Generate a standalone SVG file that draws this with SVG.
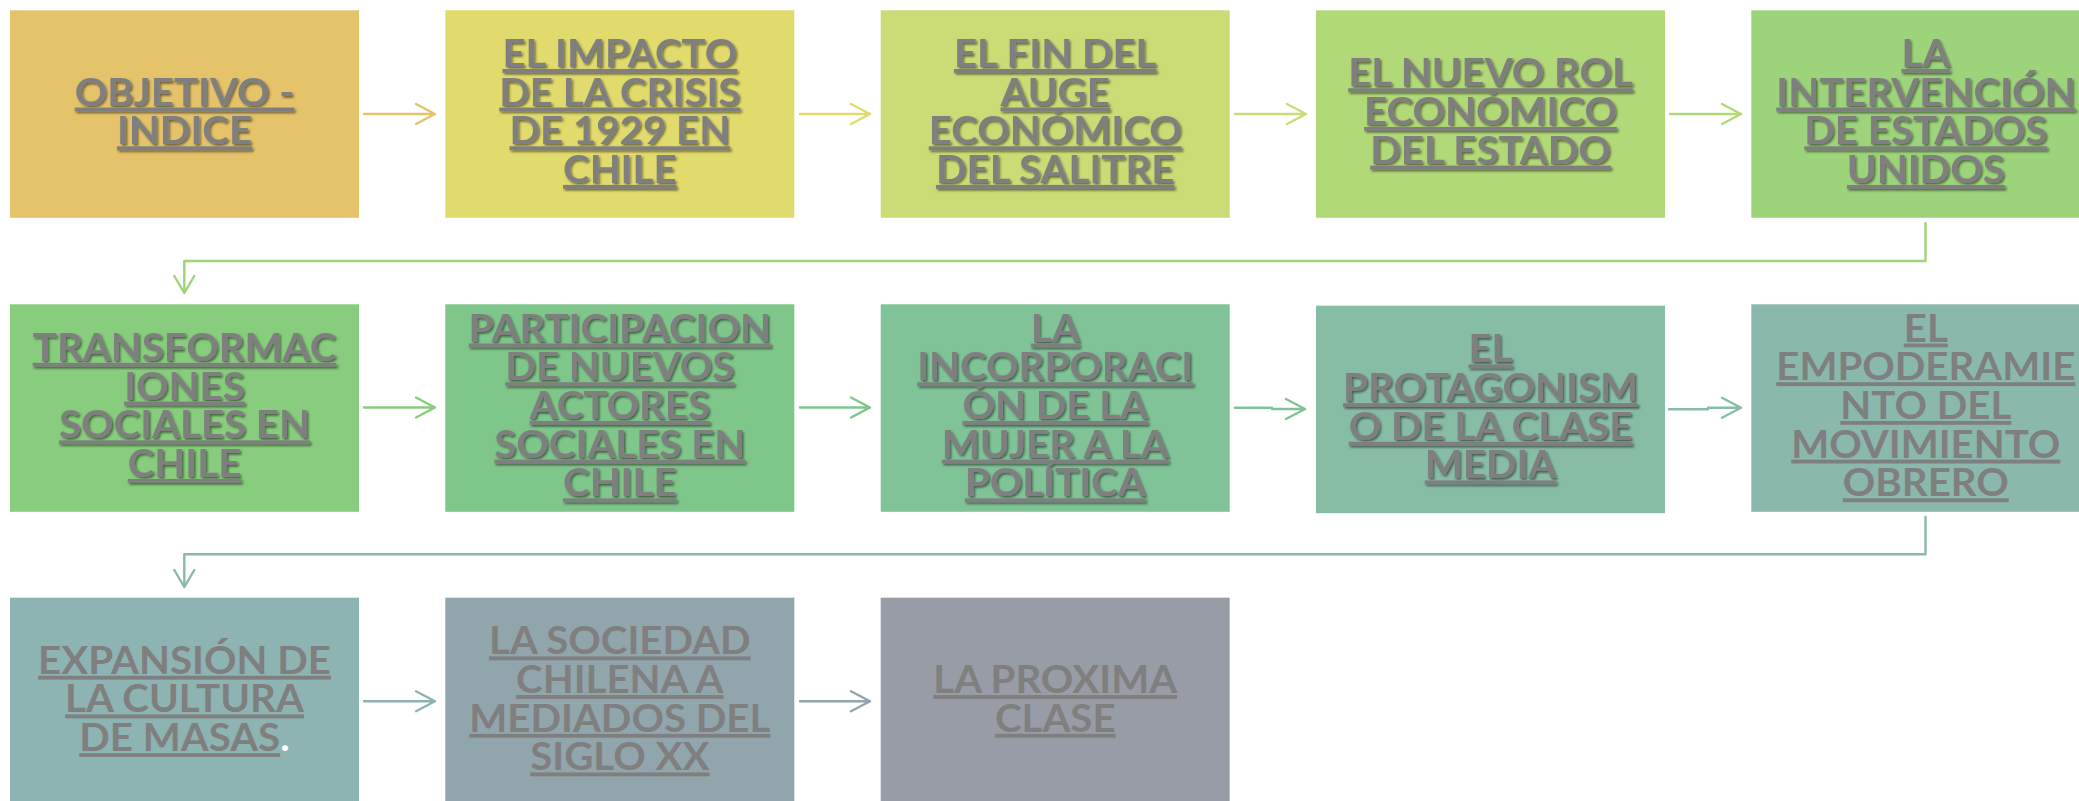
<svg xmlns="http://www.w3.org/2000/svg" width="2079" height="801" viewBox="0 0 2079 801">
<defs>
<style>
.t{font-family:"Lato","Open Sans",sans-serif;font-weight:700;font-size:38.5px;fill:#7F7F7F;text-anchor:middle}
.u{text-decoration:underline}
.sh{filter:url(#shadow)}
.c{fill:none;stroke-width:2.4;stroke-linecap:round;stroke-linejoin:round}
</style>
<filter id="shadow" x="-10%" y="-10%" width="120%" height="130%">
<feDropShadow dx="1.5" dy="1.8" stdDeviation="0.9" flood-color="#000" flood-opacity="0.5"/>
</filter>
</defs>
<rect width="2079" height="801" fill="#FFFFFF"/>

<g id="connectors" class="c">
<path d="M364 114H435M416 104L435 114L416 124" stroke="#E5C36B"/>
<path d="M800 114H870M851 104L870 114L851 124" stroke="#E1DB6D"/>
<path d="M1235 114H1306M1287 104L1306 114L1287 124" stroke="#CBDC76"/>
<path d="M1670 114H1741M1722 104L1741 114L1722 124" stroke="#B2D977"/>
<path d="M1925.5 223V261H184.3V293M174.3 276L184.3 293L194.3 276" stroke="#9DD47B"/>
<path d="M364 407.5H435M416 397.5L435 407.5L416 417.5" stroke="#88CD7D"/>
<path d="M800 407.5H870M851 397.5L870 407.5L851 417.5" stroke="#7FC68A"/>
<path d="M1235 407.7H1272V409H1305M1286 399L1305 409L1286 419" stroke="#80C397"/>
<path d="M1669 409.3H1708V407.7H1741M1722 397.7L1741 407.7L1722 417.7" stroke="#88BDA5"/>
<path d="M1925.5 517V554.3H184.3V587M174.3 570L184.3 587L194.3 570" stroke="#8AB8AD"/>
<path d="M364 701.3H435M416 691.3L435 701.3L416 711.3" stroke="#8DB3B2"/>
<path d="M800 701.3H870M851 691.3L870 701.3L851 711.3" stroke="#91A5AC"/>
</g>

<g id="n1">
<rect x="10" y="10.3" width="349" height="207.5" fill="#E5C36B"/>
<g transform="translate(184.5 0) scale(1.045 1)"><text class="t sh"><tspan class="u" x="0" y="105.6">OBJETIVO -</tspan><tspan class="u" x="0" y="144.4">INDICE</tspan></text></g>
</g>
<g id="n2">
<rect x="445.3" y="10.3" width="349" height="207.5" fill="#E1DB6D"/>
<g transform="translate(619.8 0) scale(1.045 1)"><text class="t sh"><tspan class="u" x="0" y="67">EL IMPACTO</tspan><tspan class="u" x="0" y="105.6">DE LA CRISIS</tspan><tspan class="u" x="0" y="144.4">DE 1929 EN</tspan><tspan class="u" x="0" y="183">CHILE</tspan></text></g>
</g>
<g id="n3">
<rect x="880.7" y="10.3" width="349" height="207.5" fill="#CBDC76"/>
<g transform="translate(1055.2 0) scale(1.045 1)"><text class="t sh"><tspan class="u" x="0" y="67">EL FIN DEL</tspan><tspan class="u" x="0" y="105.6">AUGE</tspan><tspan class="u" x="0" y="144.4">ECONÓMICO</tspan><tspan class="u" x="0" y="183">DEL SALITRE</tspan></text></g>
</g>
<g id="n4">
<rect x="1316" y="10.3" width="349" height="207.5" fill="#B2D977"/>
<g transform="translate(1490.5 0) scale(1.045 1)"><text class="t sh"><tspan class="u" x="0" y="86.3">EL NUEVO ROL</tspan><tspan class="u" x="0" y="125">ECONÓMICO</tspan><tspan class="u" x="0" y="163.7">DEL ESTADO</tspan></text></g>
</g>
<g id="n5">
<rect x="1751.3" y="10.3" width="349" height="207.5" fill="#9DD47B"/>
<g transform="translate(1925.8 0) scale(1.045 1)"><text class="t sh"><tspan class="u" x="0" y="67">LA</tspan><tspan class="u" x="0" y="105.6">INTERVENCIÓN</tspan><tspan class="u" x="0" y="144.4">DE ESTADOS</tspan><tspan class="u" x="0" y="183">UNIDOS</tspan></text></g>
</g>

<g id="n6">
<rect x="10" y="304.3" width="349" height="207.5" fill="#88CD7D"/>
<g transform="translate(184.5 0) scale(1.045 1)"><text class="t sh"><tspan class="u" x="0" y="360.9">TRANSFORMAC</tspan><tspan class="u" x="0" y="399.6">IONES</tspan><tspan class="u" x="0" y="438.4">SOCIALES EN</tspan><tspan class="u" x="0" y="477">CHILE</tspan></text></g>
</g>
<g id="n7">
<rect x="445.3" y="304.3" width="349" height="207.5" fill="#7FC68A"/>
<g transform="translate(619.8 0) scale(1.045 1)"><text class="t sh"><tspan class="u" x="0" y="341.6">PARTICIPACION</tspan><tspan class="u" x="0" y="380.3">DE NUEVOS</tspan><tspan class="u" x="0" y="419">ACTORES</tspan><tspan class="u" x="0" y="457.7">SOCIALES EN</tspan><tspan class="u" x="0" y="496.4">CHILE</tspan></text></g>
</g>
<g id="n8">
<rect x="880.7" y="304.3" width="349" height="207.5" fill="#80C397"/>
<g transform="translate(1055.2 0) scale(1.045 1)"><text class="t sh"><tspan class="u" x="0" y="341.6">LA</tspan><tspan class="u" x="0" y="380.3">INCORPORACI</tspan><tspan class="u" x="0" y="419">ÓN DE LA</tspan><tspan class="u" x="0" y="457.7">MUJER A LA</tspan><tspan class="u" x="0" y="496.4">POLÍTICA</tspan></text></g>
</g>
<g id="n9">
<rect x="1316" y="305.7" width="349" height="207.5" fill="#88BDA5"/>
<g transform="translate(1490.5 0) scale(1.045 1)"><text class="t sh"><tspan class="u" x="0" y="362.5">EL</tspan><tspan class="u" x="0" y="401.2">PROTAGONISM</tspan><tspan class="u" x="0" y="439.8">O DE LA CLASE</tspan><tspan class="u" x="0" y="478.5">MEDIA</tspan></text></g>
</g>
<g id="n10">
<rect x="1751.3" y="304.3" width="349" height="207.5" fill="#8AB8AD"/>
<g transform="translate(1925.8 0) scale(1.045 1)"><text class="t"><tspan class="u" x="0" y="341.6">EL</tspan><tspan class="u" x="0" y="380.3">EMPODERAMIE</tspan><tspan class="u" x="0" y="419">NTO DEL</tspan><tspan class="u" x="0" y="457.7">MOVIMIENTO</tspan><tspan class="u" x="0" y="496.4">OBRERO</tspan></text></g>
</g>

<g id="n11">
<rect x="10" y="597.7" width="349" height="207.5" fill="#8DB3B2"/>
<g transform="translate(184.5 0) scale(1.045 1)"><text class="t"><tspan class="u" x="0" y="673.8">EXPANSIÓN DE</tspan><tspan class="u" x="0" y="712.5">LA CULTURA</tspan><tspan x="0" y="751.2"><tspan class="u">DE MASAS</tspan><tspan fill="#FFFFFF">.</tspan></tspan></text></g>
</g>
<g id="n12">
<rect x="445.3" y="597.7" width="349" height="207.5" fill="#91A5AC"/>
<g transform="translate(619.8 0) scale(1.045 1)"><text class="t"><tspan class="u" x="0" y="654.5">LA SOCIEDAD</tspan><tspan class="u" x="0" y="693.1">CHILENA A</tspan><tspan class="u" x="0" y="731.9">MEDIADOS DEL</tspan><tspan class="u" x="0" y="770.5">SIGLO XX</tspan></text></g>
</g>
<g id="n13">
<rect x="880.7" y="597.7" width="349" height="207.5" fill="#979CA6"/>
<g transform="translate(1055.2 0) scale(1.045 1)"><text class="t"><tspan class="u" x="0" y="693.1">LA PROXIMA</tspan><tspan class="u" x="0" y="731.9">CLASE</tspan></text></g>
</g>
</svg>
